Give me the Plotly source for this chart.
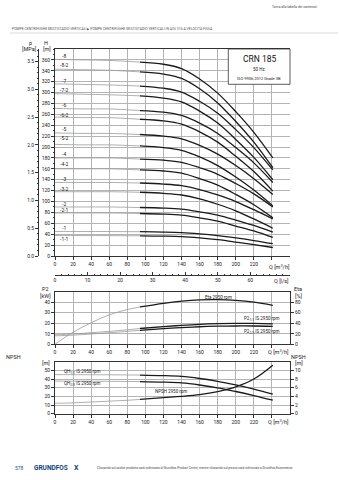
import plotly.graph_objects as go

W, H = 339, 480
FONT = "Roboto"


def fx(x):
    return x / W


def fy(y):
    return 1 - y / H


# ---------------- data ----------------
Q = [0, 30, 60, 94, 120, 140, 160, 180, 200, 220, 241]
heads = {
    "-8":   [361, 360, 359, 356, 352, 344, 325, 299, 265, 227, 180],
    "-8-2": [343, 342, 341, 338, 334, 326, 307, 281, 247, 209, 162],
    "-7":   [316, 315, 314, 312, 308, 301, 284, 262, 232, 199, 158],
    "-7-2": [298, 297, 296, 294, 290, 283, 266, 244, 214, 181, 140],
    "-6":   [271, 270, 270, 267, 264, 258, 244, 225, 199, 171, 135],
    "-6-2": [255, 254, 254, 251, 248, 242, 228, 209, 183, 155, 119],
    "-5":   [226, 225, 225, 223, 220, 215, 203, 187, 166, 142, 113],
    "-5-2": [205, 204, 204, 202, 199, 194, 182, 166, 145, 121, 92],
    "-4":   [180, 180, 180, 178, 176, 172, 162, 150, 133, 114, 90],
    "-4-2": [160, 160, 160, 158, 156, 152, 142, 130, 113, 94, 70],
    "-3":   [135, 135, 135, 134, 132, 129, 122, 112, 100, 85, 68],
    "-3-2": [118, 118, 118, 117, 115, 112, 105, 95, 83, 68, 51],
    "-2":   [90, 90, 90, 89, 88, 86, 81, 75, 66, 56, 44],
    "-2-1": [79, 79, 79, 78, 77, 75, 70, 64, 55, 46, 34],
    "-1":   [45.1, 45.0, 44.9, 44.6, 44.0, 43.0, 40.6, 37.4, 33.2, 28.4, 22.6],
    "-1-1": [37.6, 37.5, 37.4, 37.1, 36.5, 35.5, 33.1, 29.9, 25.6, 20.9, 15.6],
}
label_h = {
    "-8": 367, "-8-2": 350, "-7": 322, "-7-2": 305, "-6": 277, "-6-2": 259,
    "-5": 233, "-5-2": 216, "-4": 187, "-4-2": 168, "-3": 141, "-3-2": 123,
    "-2": 95, "-2-1": 84, "-1": 51, "-1-1": 31,
}

Q2 = [0, 20, 40, 60, 80, 94, 120, 140, 160, 180, 200, 220, 241]
eta = [0, 23, 41, 56, 66, 71, 78, 82, 84.5, 85, 83.5, 80, 74]
p2_full = [9, 9.8, 11, 12.3, 13.8, 15.0, 16.8, 18.0, 19.0, 19.6, 19.9, 19.8, 19.5]
p2_red = [8, 8.7, 9.8, 11, 12.3, 13.3, 14.9, 15.9, 16.7, 17.2, 17.4, 17.4, 17.1]
npsh = [2.4, 2.5, 2.7, 2.9, 3.1, 3.3, 3.7, 4.0, 4.4, 5.1, 6.2, 8.0, 11.2]
qh_full = heads["-1"]
qh_red = heads["-1-1"]

q_ticks = list(range(0, 221, 20))
q_extra_grid = [240]
ls_ticks = list(range(0, 61, 10))
h_ticks = list(range(0, 361, 20))
p_ticks = [0.0, 0.5, 1.0, 1.5, 2.0, 2.5, 3.0, 3.5]
p2_ticks = [0, 10, 20, 30, 40]
eta_ticks = [0, 20, 40, 60, 80]
qh_ticks = [0, 10, 20, 30, 40, 50]
npsh_ticks = [0, 2, 4, 6, 8, 10]

SPLIT = 94
GRAY = "#9a9a9a"
BLACK = "#1a1a1a"
GRID = "#b4b4b4"

fig = go.Figure()


def add_curve(q, v, xa, ya):
    qa = [a for a in q if a <= SPLIT]
    va = [b for a, b in zip(q, v) if a <= SPLIT]
    qb = [a for a in q if a >= SPLIT]
    vb = [b for a, b in zip(q, v) if a >= SPLIT]
    fig.add_trace(go.Scatter(x=qa, y=va, xaxis=xa, yaxis=ya, mode="lines",
                             line=dict(color=GRAY, width=0.8, shape="spline"),
                             showlegend=False, hoverinfo="skip"))
    fig.add_trace(go.Scatter(x=qb, y=vb, xaxis=xa, yaxis=ya, mode="lines",
                             line=dict(color=BLACK, width=1.3, shape="spline"),
                             showlegend=False, hoverinfo="skip"))


for name, v in heads.items():
    add_curve(Q, v, "x", "y")

add_curve(Q2, eta, "x2", "y4")
add_curve(Q2, p2_full, "x2", "y3")
add_curve(Q2, p2_red, "x2", "y3")
add_curve(Q, qh_full, "x3", "y5")
add_curve(Q, qh_red, "x3", "y5")
add_curve(Q2, npsh, "x3", "y6")

# invisible traces to activate the l/s and MPa axes
fig.add_trace(go.Scatter(x=[0], y=[0], xaxis="x4", yaxis="y", mode="markers",
                         marker=dict(opacity=0), showlegend=False, hoverinfo="skip"))
fig.add_trace(go.Scatter(x=[0], y=[0], xaxis="x", yaxis="y2", mode="markers",
                         marker=dict(opacity=0), showlegend=False, hoverinfo="skip"))

tf = dict(family=FONT, size=5, color="#222")
XD = [fx(55), fx(290)]


def xax(anchor):
    return dict(domain=XD, anchor=anchor, range=[0, 260], tickvals=q_ticks,
                showgrid=True, gridcolor=GRID, gridwidth=0.6, zeroline=False,
                showline=True, linecolor="#333", linewidth=0.8, mirror=True,
                ticks="outside", ticklen=3, tickcolor="#333", tickwidth=0.6,
                tickfont=tf, automargin=False, fixedrange=True,
                minor=dict(tickvals=q_extra_grid, showgrid=True, gridcolor=GRID,
                           gridwidth=0.6, ticks="outside", ticklen=3, tickcolor="#333"))


def yax(dom, rng, ticks, side="left", grid=True, overlay=None, anchor=None):
    d = dict(range=rng, tickvals=ticks, showgrid=grid, gridcolor=GRID, gridwidth=0.6,
             zeroline=False, showline=True, linecolor="#333", linewidth=0.8,
             ticks="outside", ticklen=3, tickcolor="#333", tickwidth=0.6,
             tickfont=tf, automargin=False, side=side, fixedrange=True)
    if dom is not None:
        d["domain"] = dom
    if overlay:
        d["overlaying"] = overlay
    if anchor:
        d["anchor"] = anchor
    return d


fig.update_layout(
    width=W, height=H, margin=dict(l=0, r=0, t=0, b=0),
    paper_bgcolor="white", plot_bgcolor="white", showlegend=False,
    font=dict(family=FONT, size=5, color="#222"),
    xaxis=xax("y"),
    xaxis2=xax("y3"),
    xaxis3=xax("y5"),
    xaxis4=dict(overlaying="x", anchor="free", position=fy(275), range=[0, 260 / 3.6],
                tickvals=ls_ticks, showgrid=False, zeroline=False, showline=True,
                linecolor="#333", linewidth=0.8, ticks="inside", ticklen=3,
                tickcolor="#333", tickwidth=0.6, tickfont=tf, side="bottom",
                minor=dict(dtick=2, ticklen=1.5, tickcolor="#333", ticks="inside"),
                fixedrange=True),
    yaxis=dict(yax([fy(256), fy(49)], [0, 380], h_ticks, anchor="x"),
               minor=dict(dtick=10, ticklen=1.5, tickcolor="#333", ticks="outside")),
    yaxis2=dict(yax(None, [0, 380 / 101.97], p_ticks, grid=False, overlay="y", anchor="free"),
                position=fx(38), tickformat=".1f",
                minor=dict(dtick=0.1, ticklen=1.5, tickcolor="#333", ticks="outside")),
    yaxis3=yax([fy(344.3), fy(291.7)], [0, 50], p2_ticks, anchor="x2"),
    yaxis4=yax(None, [0, 100], eta_ticks, side="right", grid=False, overlay="y3", anchor="x2"),
    yaxis5=yax([fy(413.7), fy(361.7)], [0, 60], qh_ticks, anchor="x3"),
    yaxis6=yax(None, [0, 12], npsh_ticks, side="right", grid=False, overlay="y5", anchor="x3"),
)

ann = []


def pa(x, y, text, size=5, color="#222", xanchor="center"):
    ann.append(dict(xref="paper", yref="paper", x=fx(x), y=fy(y), text=text,
                    showarrow=False, xanchor=xanchor, yanchor="middle",
                    font=dict(family=FONT, size=size, color=color)))


for name, hv in label_h.items():
    ann.append(dict(xref="x", yref="y", x=10, y=hv, text=name, showarrow=False,
                    xanchor="center", yanchor="middle",
                    font=dict(family=FONT, size=5, color="#222")))

# axis titles
pa(30, 43.5, "p", 5.5)
pa(29, 49, "[MPa]", 5.5)
pa(46, 43.5, "H", 5.5)
pa(47, 49, "[m]", 5.5)
pa(279, 266, "Q [m<sup>3</sup>/h]", 5.5)
pa(281, 281, "Q [l/s]", 5.5)
pa(45, 289, "P2", 5.5)
pa(45, 295.5, "[kW]", 5.5)
pa(298, 289, "Eta", 5.5)
pa(298, 295.5, "[%]", 5.5)
pa(278, 351.5, "Q [m<sup>3</sup>/h]", 5.5)
pa(13, 356.5, "NPSH", 5.5)
pa(46, 363, "[m]", 5.5)
pa(298, 356.5, "NPSH", 5.5)
pa(299, 363, "[m]", 5.5)
pa(278, 421.5, "Q [m<sup>3</sup>/h]", 5.5)

# curve labels
pa(218, 297.3, "Eta 2950 rpm", 4.5)
pa(262, 319.3, "P2<sub>1/1</sub> IS 2950 rpm", 4.5)
pa(262, 331.5, "P2<sub>2/3</sub> IS 2950 rpm", 4.5)
pa(62, 372.3, "QH<sub>1/1</sub> IS 2950 rpm", 4.5, xanchor="left")
pa(62, 384.3, "QH<sub>2/3</sub> IS 2950 rpm", 4.5, xanchor="left")
pa(171, 391.7, "NPSH 2950 rpm", 4.5)

# info box text
pa(259, 59, "CRN 185", 8.5, "#111")
pa(259, 69.5, "50 Hz", 4.5)
pa(259, 78.3, "ISO 9906:2012 Grade 3B", 4)

# header / footer
pa(294, 7, "Torna alla tabella dei contenuti", 3.3, "#444")
pa(10, 28.5, "POMPE CENTRIFUGHE MULTISTADIO VERTICALI \u25B6 POMPE CENTRIFUGHE MULTISTADIO VERTICALI IN AISI 316 A VELOCIT\u00c0 FISSA",
   3.45, "#555", xanchor="left")
pa(19, 468, "578", 5, "#1d4f91")
pa(32, 468, "<b>GRUNDFOS</b>", 6.5, "#13447a", xanchor="left")
pa(76, 467.5, "<b>X</b>", 7, "#13447a")
pa(95, 467.5, "Cliccando sul codice prodotto sar\u00e0 indirizzato al Grundfos Product Center, mentre cliccando sul prezzo sar\u00e0 indirizzato a Grundfos Ecommerce.",
   3.1, "#444", xanchor="left")

fig.update_layout(annotations=ann)

fig.update_layout(shapes=[
    dict(type="rect", xref="paper", yref="paper", x0=fx(228.3), x1=fx(290), y0=fy(84.3), y1=fy(49),
         fillcolor="white", line=dict(color="#333", width=0.8), layer="above"),
    dict(type="line", xref="paper", yref="paper", x0=fx(10), x1=fx(338), y0=fy(33), y1=fy(33),
         line=dict(color="#d0d0d0", width=0.8)),
])

fig.write_html("out.html", config={"displayModeBar": False})
